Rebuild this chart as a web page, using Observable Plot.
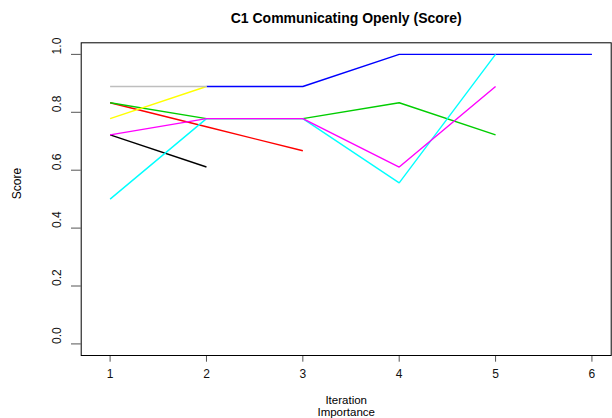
<!DOCTYPE html>
<html>
<head>
<meta charset="utf-8">
<script src="https://cdn.jsdelivr.net/npm/d3@7"></script>
<script src="https://cdn.jsdelivr.net/npm/@observablehq/plot@0.6"></script>
<style>
  html, body { margin: 0; padding: 0; background: #fff; }
  svg { font-family: "Liberation Sans", Arial, Helvetica, sans-serif; }
</style>
</head>
<body>
<div id="chart"></div>
<script>
const titleText = "C1 Communicating Openly (Score)";
const xLabel1 = "Iteration";
const xLabel2 = "Importance";
const yLabel = "Score";
const xTicks = [1, 2, 3, 4, 5, 6];
const yTicks = [0.0, 0.2, 0.4, 0.6, 0.8, 1.0];

// Series in R default palette order (drawing order)
const seriesNames = ["black", "red", "green", "blue", "cyan", "magenta", "yellow", "gray"];
const seriesColors = ["#000000", "#FF0000", "#00CD00", "#0000FF", "#00FFFF", "#FF00FF", "#FFFF00", "#BEBEBE"];
const blackX = [1, 2];             const blackY = [0.722, 0.611];
const redX = [1, 2, 3];            const redY = [0.833, 0.75, 0.667];
const greenX = [1, 2, 3, 4, 5];    const greenY = [0.833, 0.778, 0.778, 0.833, 0.722];
const blueX = [2, 3, 4, 5, 6];     const blueY = [0.889, 0.889, 1.0, 1.0, 1.0];
const cyanX = [1, 2, 3, 4, 5];     const cyanY = [0.5, 0.778, 0.778, 0.556, 1.0];
const magentaX = [1, 2, 3, 4, 5];  const magentaY = [0.722, 0.778, 0.778, 0.611, 0.889];
const yellowX = [1, 2];            const yellowY = [0.778, 0.889];
const grayX = [1, 2];              const grayY = [0.889, 0.889];

const allX = [blackX, redX, greenX, blueX, cyanX, magentaX, yellowX, grayX];
const allY = [blackY, redY, greenY, blueY, cyanY, magentaY, yellowY, grayY];

const rows = [];
seriesNames.forEach((s, i) => {
  allX[i].forEach((x, j) => rows.push({series: s, color: seriesColors[i], x, y: allY[i][j]}));
});

const font = "'Liberation Sans', Arial, Helvetica, sans-serif";

const chart = Plot.plot({
  width: 612,
  height: 418,
  marginLeft: 80.7,
  marginRight: 1.3,
  marginTop: 42.3,
  marginBottom: 63,
  style: {fontFamily: font, fontSize: "12px", background: "#fff", color: "#000"},
  x: {domain: [0.7, 6.2], axis: null},
  y: {domain: [-0.04, 1.04], axis: null},
  marks: [
    Plot.axisX({ticks: xTicks, tickSize: 6.7, tickFormat: () => "", stroke: "#555", label: null}),
    Plot.axisY({ticks: yTicks, tickSize: 9.7, tickFormat: () => "", stroke: "#555", label: null}),
    Plot.text(xTicks, {x: d => d, frameAnchor: "bottom", dy: 18.7, text: d => String(d), fontSize: 12, fill: "#111", lineAnchor: "middle"}),
    Plot.text(yTicks, {y: d => d, frameAnchor: "left", dx: -23.7, text: d => d.toFixed(1), rotate: -90, fontSize: 12, fill: "#111", lineAnchor: "middle"}),
    Plot.line(rows, {x: "x", y: "y", z: "series", stroke: "color", strokeWidth: 1.4, strokeLinejoin: "miter", strokeLinecap: "butt"}),
    Plot.frame({stroke: "#000", strokeWidth: 1}),
    Plot.text([titleText], {frameAnchor: "top", dy: -24.3, fontWeight: "bold", fontSize: 14, fill: "#000", lineAnchor: "middle"}),
    Plot.text([xLabel1], {frameAnchor: "bottom", dy: 45.3, fontSize: 11.5, fill: "#000", lineAnchor: "middle"}),
    Plot.text([xLabel2], {frameAnchor: "bottom", dy: 57.3, fontSize: 11.5, fill: "#000", lineAnchor: "middle"}),
    Plot.text([yLabel], {frameAnchor: "left", dx: -63.7, rotate: -90, fontSize: 12, fill: "#000", lineAnchor: "middle"})
  ]
});
document.getElementById("chart").appendChild(chart);
</script>
</body>
</html>
